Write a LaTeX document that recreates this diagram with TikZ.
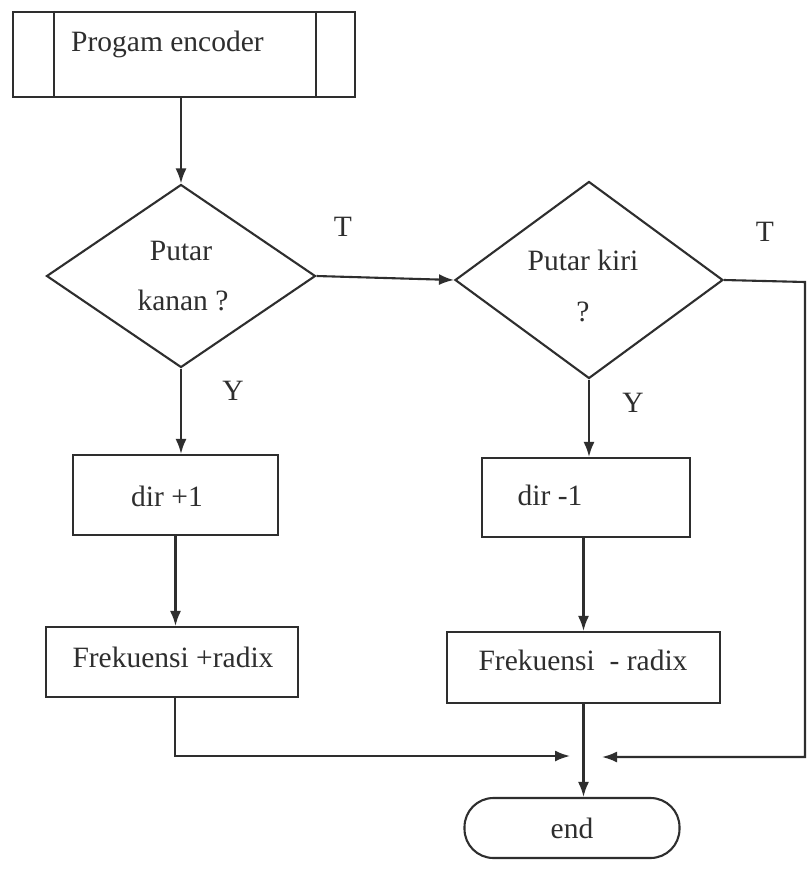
\documentclass[tikz,border=0pt]{standalone}
\usepackage{fontspec}
\setmainfont{Liberation Serif}
\usetikzlibrary{shapes.geometric,arrows.meta,calc}
\definecolor{ink}{HTML}{2E2E2E}
\tikzset{
  box/.style={draw=ink, line width=2.1pt, rectangle, inner sep=0pt},
  decision/.style={draw=ink, line width=2.1pt, diamond, inner sep=0pt},
  term/.style={draw=ink, line width=2.1pt, rectangle, rounded corners=29pt, inner sep=0pt},
  txt/.style={text=ink, font=\fontsize{29.5}{35}\selectfont, inner sep=0pt},
  conn/.style={draw=ink, line width=2.1pt},
  arr/.style={conn, -{Latex[length=15pt,width=11pt]}},
}
\begin{document}
\begin{tikzpicture}[x=1pt,y=-1pt]
\useasboundingbox (0,0) rectangle (808,871);
\fill[white] (0,0) rectangle (808,871);

% top predefined-process box
\node[box, minimum width=342pt, minimum height=85pt] (top) at (184,54.5) {};
\draw[conn] ($(top.north west)+(42,0)$) -- ($(top.south west)+(42,0)$);
\draw[conn] ($(top.north east)+(-40,0)$) -- ($(top.south east)+(-40,0)$);
\node[txt, anchor=west] (toptxt) at (71,44) {Progam encoder};

% decisions
\node[decision, minimum width=269pt, minimum height=183pt] (d1) at (181,276) {};
\node[txt] (d1a) at (181,251) {Putar};
\node[txt] (d1b) at (183,300) {kanan ?};

\node[decision, minimum width=268pt, minimum height=197pt] (d2) at (589,280) {};
\node[txt] (d2a) at (583,260) {Putar kiri};
\node[txt] (d2b) at (583,312) {?};

% process boxes
\node[box, minimum width=205pt, minimum height=80pt] (b1) at (175.5,495) {};
\node[txt] (b1t) at (167,496) {dir +1};
\node[box, minimum width=252pt, minimum height=70pt] (b2) at (172,662) {};
\node[txt] (b2t) at (173,657) {Frekuensi +radix};
\node[box, minimum width=208pt, minimum height=79pt] (b3) at (586,497.5) {};
\node[txt] (b3t) at (550,495) {dir -1};
\node[box, minimum width=273pt, minimum height=71pt] (b4) at (583.5,667.5) {};
\node[txt] (b4t) at (583,660) {Frekuensi\ \ - radix};

% terminator
\node[term, minimum width=215pt, minimum height=60pt] (end) at (572,828) {};
\node[txt] (endt) at (572,828) {end};

% labels
\node[txt] (T1) at (343,227) {T};
\node[txt] (T2) at (765,232) {T};
\node[txt] (Y1) at (233,391) {Y};
\node[txt] (Y2) at (633,403) {Y};

% connectors
\draw[arr] (top.south -| d1.north) -- (d1.north);
\draw[arr] (d1.east) -- (d2.west);
\draw[arr] (d1.south) -- (d1.south |- b1.north);
\draw[arr] (b1.south) -- (b1.south |- b2.north);
\draw[arr] (d2.south) -- (d2.south |- b3.north);
\draw[arr] (b3.south -| b4.north) -- (b4.north);
\draw[arr] (b4.south) -- (b4.south |- end.north);

\coordinate (jl) at (175,756);
\coordinate (tl) at (570,756);
\coordinate (rc) at (805,282);
\coordinate (rb) at (805,757);
\coordinate (tr) at (602,757);
\draw[arr] (b2.south -| jl) -- (jl) -- (tl);
\draw[arr] (d2.east) -- (rc) -- (rb) -- (tr);
\end{tikzpicture}
\end{document}
